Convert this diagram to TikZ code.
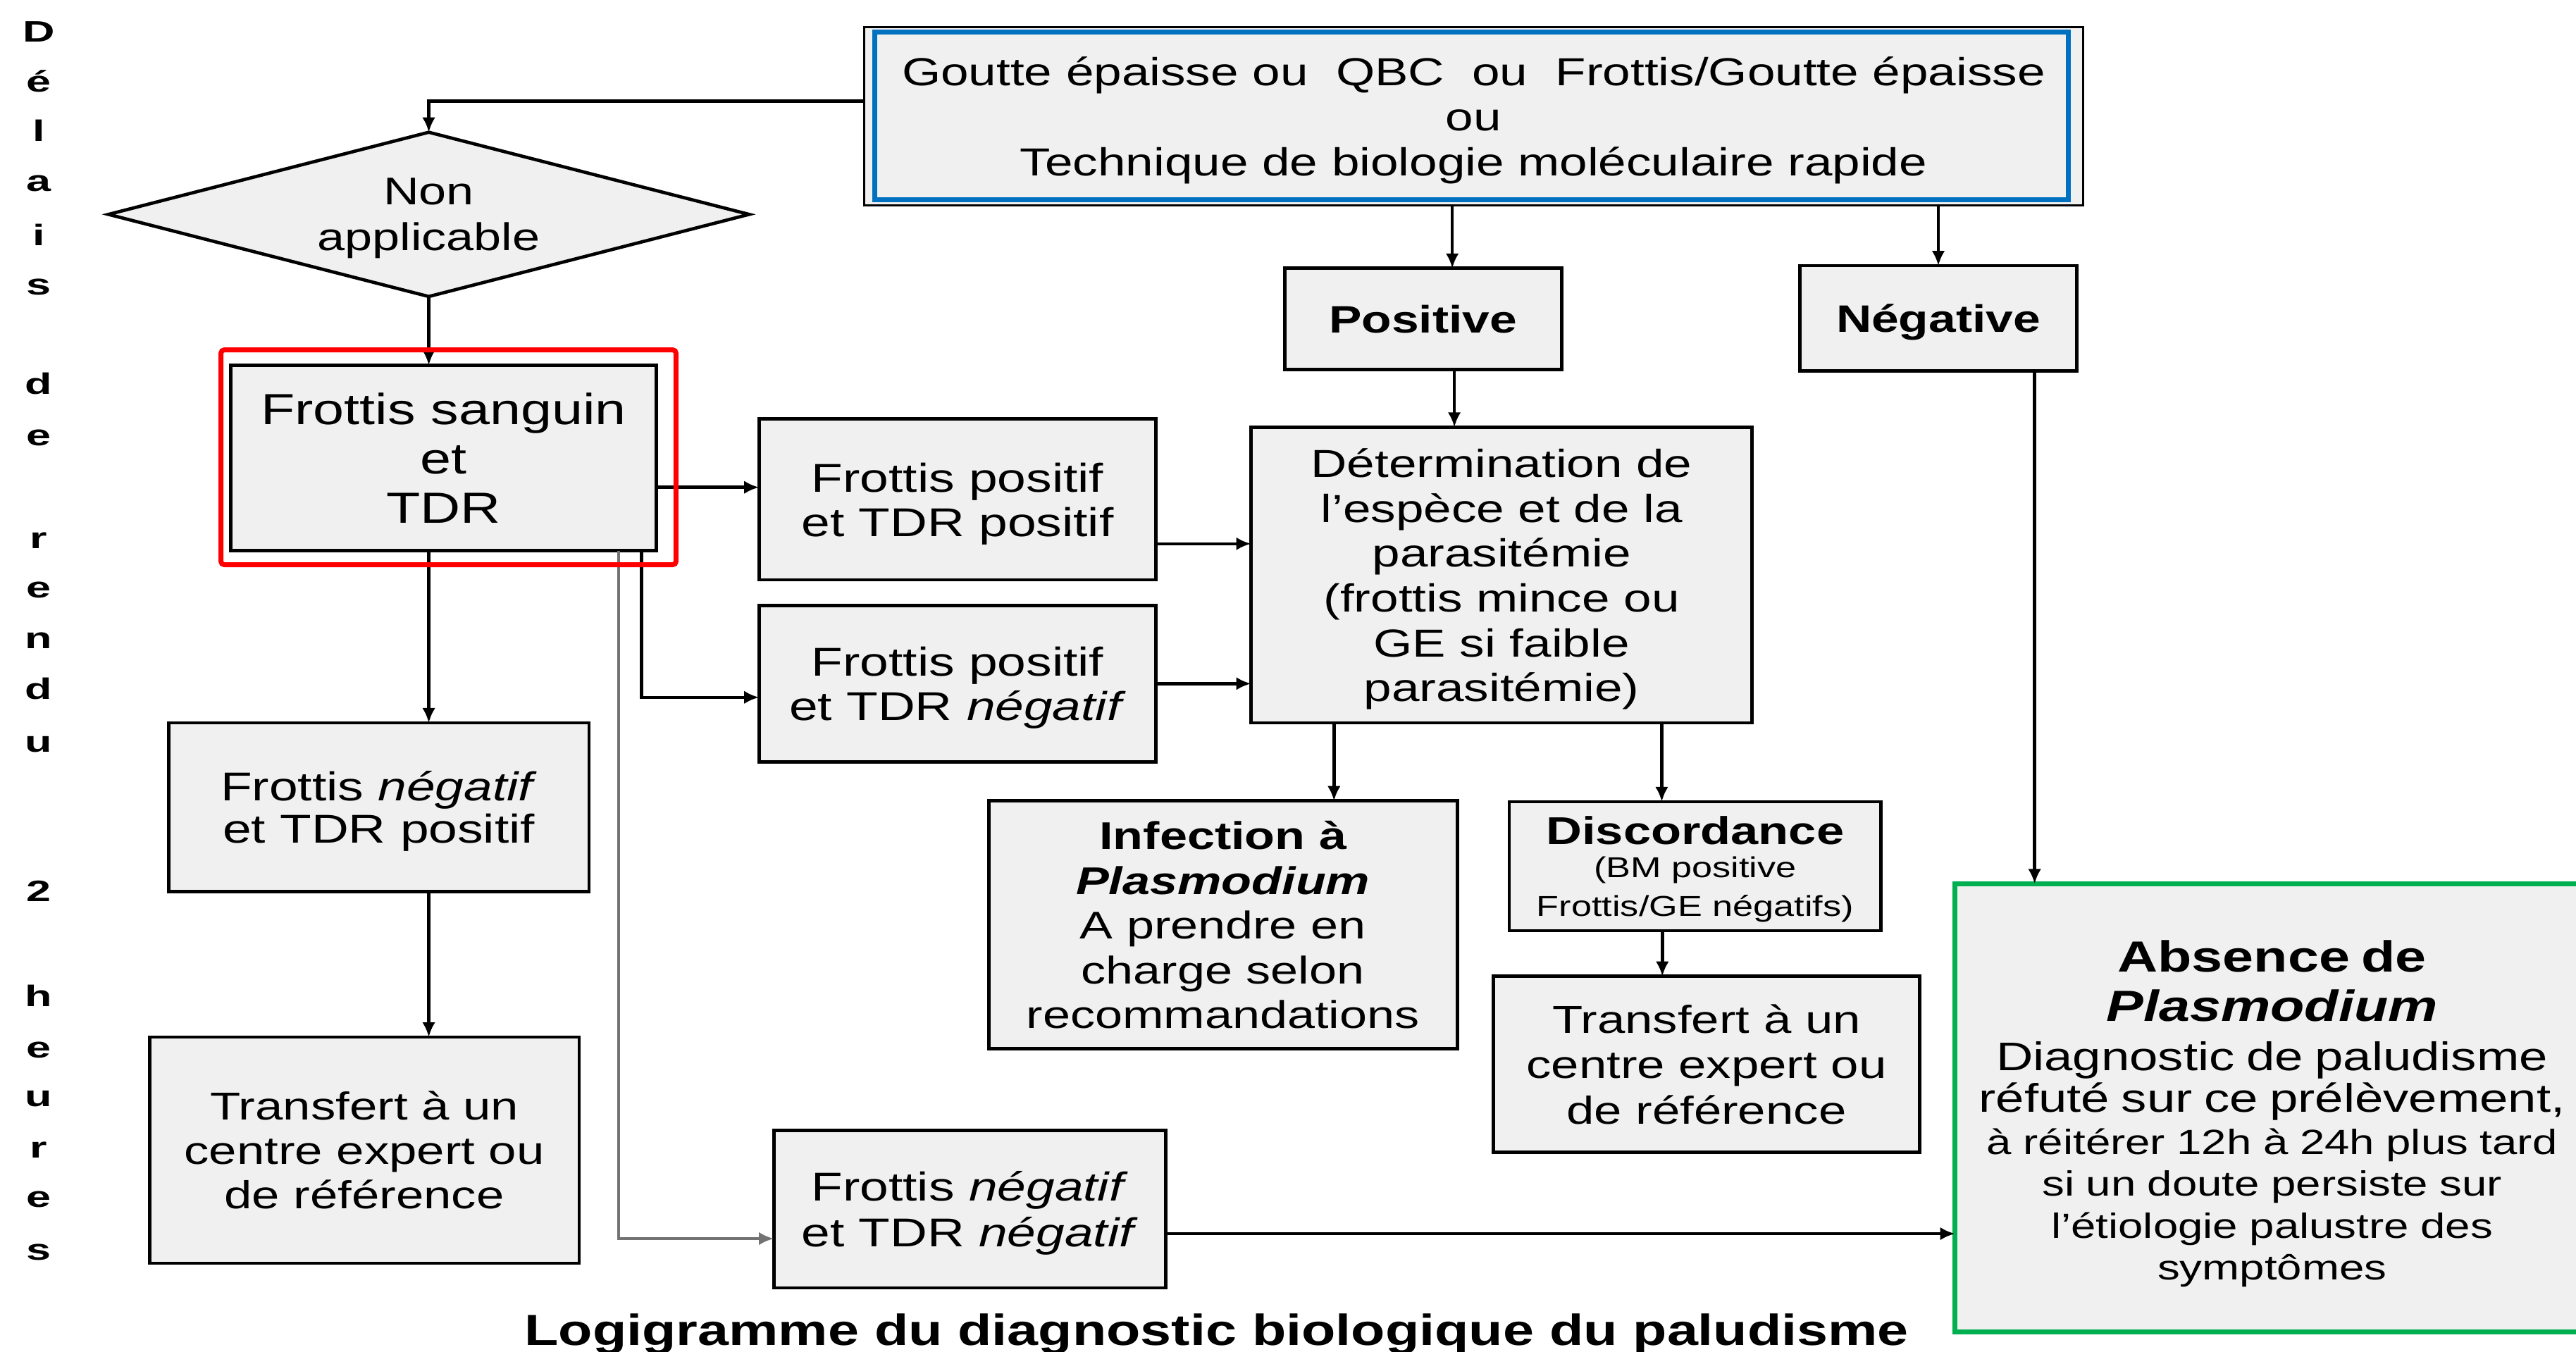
\documentclass[tikz,border=0pt]{standalone}
\usepackage{fontspec}
\setmainfont{Liberation Sans}[FakeStretch=1.28]
\newfontfamily\vfont{Liberation Sans}[FakeStretch=1.5]
\usetikzlibrary{arrows.meta,shapes.geometric,calc}
\definecolor{boxfill}{HTML}{F0F0F0}
\definecolor{myblue}{HTML}{0070C0}
\definecolor{mygreen}{HTML}{00B050}
\definecolor{myred}{HTML}{FF0000}
\newcommand{\fsz}[2]{\fontsize{#1}{#2}\selectfont}
\begin{document}
\begin{tikzpicture}[x=1pt,y=-1pt,
  boxbase/.style={draw=black, line width=2pt, fill=boxfill, rectangle, inner sep=0pt, outer sep=0pt, align=center, text=black},
  box/.style={boxbase, text depth=0pt},
  arr/.style={line width=1.9pt, -{Latex[length=9pt,width=8pt]}},
  grayln/.style={line width=1.9pt, draw=black!55, -{Latex[length=9pt,width=8pt]}},
  vlet/.style={font=\vfont\fsz{18}{20}\bfseries, anchor=base, inner sep=0pt},
  ttl/.style={font=\bfseries\fsz{26.5}{30}, anchor=base, inner sep=0pt}
]
\useasboundingbox[fill=white] (0,0) rectangle (1568,823);

% vertical text
\foreach \l/\y [count=\i] in {D/25.7, é/55.8, l/85.8, a/116.5, i/149.4, s/179.4, d/239.8, e/271.3, r/333.8, e/364, n/394.9, d/425.7, u/457.7, 2/548.8, h/612.7, e/644, u/673.7, r/705, e/734.7, s/766.9}
  \node[vlet] (v\i) at (23.5,\y) {\l};

% nodes
\node[box, line width=1.4pt, minimum width=742pt, minimum height=108.5pt, font=\fsz{23.8}{27.5}] (top) at (897,70.75)
  {Goutte épaisse ou\ \ QBC\ \ ou\ \ Frottis/Goutte épaisse\\ou\\Technique de biologie moléculaire rapide};
\node[box, shape=diamond, aspect=3.9, minimum width=390pt, minimum height=100pt, font=\fsz{23.5}{28}] (dia) at (261,130.5) {Non\\applicable};
\node[box, minimum width=259pt, minimum height=113pt, font=\fsz{26.5}{30}] (fs) at (270,278.75) {Frottis sanguin\\et\\TDR};
\node[box, minimum width=168.5pt, minimum height=61.7pt, font=\bfseries\fsz{23.3}{27}] (pos) at (866.25,194.15) {Positive};
\node[box, minimum width=168.3pt, minimum height=64pt, font=\bfseries\fsz{23.3}{27}] (neg) at (1179.85,193.7) {Négative};
\node[box, minimum width=241.7pt, minimum height=98pt, font=\fsz{24.5}{27}] (fp1) at (582.85,304) {Frottis positif\\et TDR positif};
\node[box, minimum width=241.7pt, minimum height=95.3pt, font=\fsz{24.5}{27}] (fp2) at (582.85,416.15) {Frottis positif\\et TDR \textit{négatif}};
\node[box, minimum width=305pt, minimum height=180pt, font=\fsz{23.8}{27.3}] (det) at (914,350)
  {Détermination de\\l’espèce et de la\\parasitémie\\(frottis mince ou\\GE si faible\\parasitémie)};
\node[box, minimum width=285.2pt, minimum height=151pt, font=\fsz{23.5}{27.2}] (inf) at (744.4,563)
  {\bfseries Infection à\\\bfseries\itshape Plasmodium\\\normalfont A prendre en\\\normalfont charge selon\\\normalfont recommandations};
\node[box, minimum width=226.3pt, minimum height=78.5pt, font=\fsz{23.6}{20}] (dis) at (1031.85,527.25)
  {\bfseries Discordance\\\normalfont\fsz{17.5}{20}(BM positive\\[3.6pt]\normalfont\fsz{17.5}{20}Frottis/GE négatifs)};
\node[box, minimum width=259.4pt, minimum height=107.1pt, font=\fsz{23.7}{27.5}] (tr2) at (1038.7,647.85)
  {Transfert à un\\centre expert ou\\de référence};
\node[boxbase, draw=mygreen, line width=3pt, minimum width=386pt, minimum height=273pt, text width=380pt, font=\fsz{21.3}{25.5}] (abs) at (1383,674.5)
  {\rule{0pt}{26pt}\fsz{26.5}{25.5}\bfseries Absence de\\[4.5pt]
   \fsz{26.5}{25.5}\bfseries\itshape Plasmodium\\[4.5pt]
   \fsz{24.3}{25.5}\normalfont Diagnostic de paludisme\\
   \fsz{24.3}{25.5}\normalfont réfuté sur ce prélèvement,\\
   \fsz{21.3}{25.5}\normalfont à réitérer 12h à 24h plus tard\\
   si un doute persiste sur\\
   l'étiologie palustre des\\
   symptômes};
\node[box, minimum width=256pt, minimum height=102.6pt, font=\fsz{24.5}{26}] (fnp) at (230.6,491.3) {Frottis \textit{négatif}\\et TDR positif};
\node[box, minimum width=261.6pt, minimum height=137.7pt, font=\fsz{23.7}{27}] (tr1) at (221.8,700.15) {Transfert à un\\centre expert ou\\de référence};
\node[box, minimum width=238.5pt, minimum height=96pt, font=\fsz{24.5}{28}] (fnn) at (590.25,736) {Frottis \textit{négatif}\\et TDR \textit{négatif}};

\node[ttl] (title) at (740.5,819) {Logigramme du diagnostic biologique du paludisme};

% connectors
\draw[arr] ([yshift=9.25pt]top.west) -| (dia.north);
\draw[arr] (dia.south) -- (dia.south |- fs.north);
\draw[arr] (dia.south |- fs.south) -- (dia.south |- fnp.north);
\draw[arr] (dia.south |- fnp.south) -- (dia.south |- tr1.north);
\draw[arr] ([yshift=-17.9pt]fs.east) -- ([yshift=-17.9pt]fs.east -| fp1.west);
\draw[arr] ([xshift=-9pt]fs.south east) |- ([yshift=-8.35pt]fp2.west);
\draw[grayln] ([xshift=-23pt]fs.south east) |- ([yshift=-18pt]fnn.west);
\draw[arr] ([yshift=-27pt]fp1.east) -- ([yshift=-27pt]fp1.east -| det.west);
\draw[arr] (fp2.east) -- (fp2.east -| det.west);
\draw[arr] ([xshift=17.75pt]pos.north |- top.south) -- ([xshift=17.75pt]pos.north);
\draw[arr] (neg.north |- top.south) -- (neg.north);
\draw[arr] ([xshift=19pt]pos.south) -- ([xshift=19pt]pos.south |- det.north);
\draw[arr] ([xshift=58.6pt]neg.south) -- ([xshift=58.6pt]neg.south |- abs.north);
\draw[arr] ([xshift=-102pt]det.south) -- ([xshift=-102pt]det.south |- inf.north);
\draw[arr] ([xshift=97.5pt]det.south) -- ([xshift=97.5pt]det.south |- dis.north);
\draw[arr] ([xshift=-20pt]dis.south) -- ([xshift=-20pt]dis.south |- tr2.north);
\draw[arr] ([yshift=-15pt]fnn.east) -- ([yshift=-15pt]fnn.east -| abs.west);

% highlight frames
\draw[myblue, line width=3pt] ($(top.north west)+(6.5,3)$) rectangle ($(top.south east)+(-9,-3.3)$);
\draw[myred, line width=3pt, rounded corners=2pt] ($(fs.north west)+(-6,-9.25)$) rectangle ($(fs.south east)+(12,8.5)$);
\end{tikzpicture}
\end{document}
